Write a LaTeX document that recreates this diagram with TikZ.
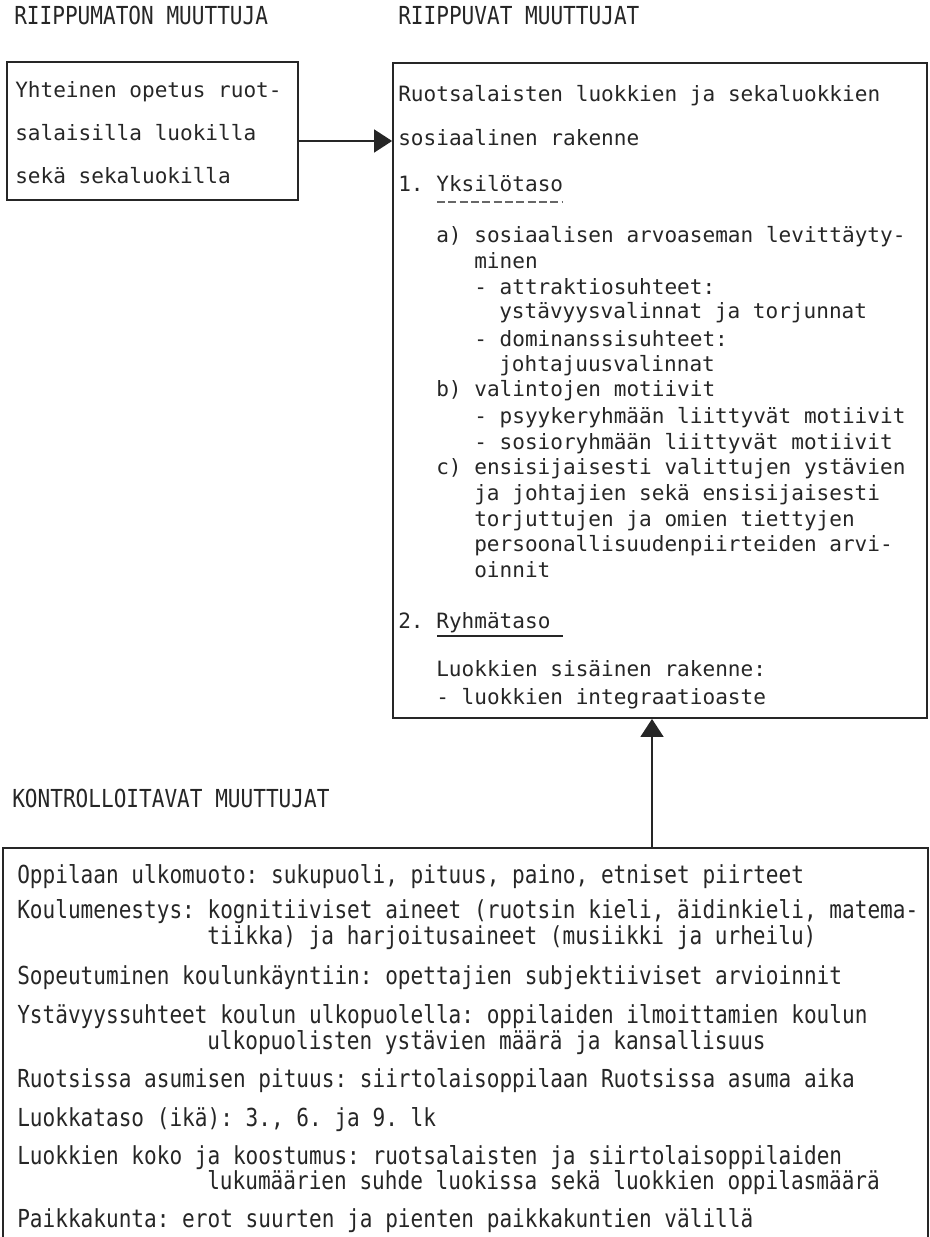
\documentclass[tikz,border=0pt]{standalone}
\usepackage{fontspec}
\usetikzlibrary{arrows.meta,fit}
\newfontfamily\twfont{DejaVu Sans Mono}
\newfontfamily\twcfont{DejaVu Sans Mono}[FakeStretch=0.85]
\definecolor{ink}{HTML}{262626}
\newcommand{\tw}{\twfont\fontsize{15.8pt}{19pt}\selectfont\frenchspacing}
\newcommand{\twc}{\twcfont\fontsize{18.6pt}{22pt}\selectfont\frenchspacing}
\tikzset{
  boxframe/.style={draw=ink, line width=1.3pt, inner sep=0pt},
  tl/.style={anchor=base west, inner sep=0pt, text=ink, font=\tw},
  tc/.style={anchor=base west, inner sep=0pt, text=ink, font=\twc},
  arr/.style={draw=ink, line width=1.9pt, -{Triangle[length=13.5pt,width=17pt]}},
}
\begin{document}
\begin{tikzpicture}[x=0.75pt,y=-0.75pt]
\useasboundingbox (0,0) rectangle (929,1237);
% headings
\node[tc] (h1) at (14,25) {RIIPPUMATON MUUTTUJA};
\node[tc] (h2) at (398,25) {RIIPPUVAT MUUTTUJAT};
\node[tc] (h3) at (12,807) {KONTROLLOITAVAT MUUTTUJAT};
% boxes
\node[boxframe, fit={(7,62) (298,200)}] (L) {};
\node[boxframe, fit={(393,63) (927,718)}] (R) {};
\node[boxframe, fit={(3,848) (928,1250)}] (B) {};
% left box text
\node[tl] (l1) at (15,98) {Yhteinen opetus ruot-};
\node[tl] (l2) at (15,141) {salaisilla luokilla};
\node[tl] (l3) at (15,184) {sekä sekaluokilla};
% right box text
\node[tl] (r1) at (398,102) {Ruotsalaisten luokkien ja sekaluokkien};
\node[tl] (r2) at (398,146) {sosiaalinen rakenne};
\node[tl] (r3) at (398,192) {1. Yksilötaso};
\draw[ink!70, line width=1.1pt, dash pattern=on 6pt off 2.5pt] (437,202) -- (563,202);
\node[tl] (r4) at (436,243) {a) sosiaalisen arvoaseman levittäyty-};
\node[tl] (r5) at (474,269) {minen};
\node[tl] (r6) at (474,295) {- attraktiosuhteet:};
\node[tl] (r7) at (499,319) {ystävyysvalinnat ja torjunnat};
\node[tl] (r8) at (474,346) {- dominanssisuhteet:};
\node[tl] (r9) at (499,371) {johtajuusvalinnat};
\node[tl] (r10) at (436,396) {b) valintojen motiivit};
\node[tl] (r11) at (474,423) {- psyykeryhmään liittyvät motiivit};
\node[tl] (r12) at (474,449) {- sosioryhmään liittyvät motiivit};
\node[tl] (r13) at (436,474) {c) ensisijaisesti valittujen ystävien};
\node[tl] (r14) at (474,500) {ja johtajien sekä ensisijaisesti};
\node[tl] (r15) at (474,526) {torjuttujen ja omien tiettyjen};
\node[tl] (r16) at (474,551) {persoonallisuudenpiirteiden arvi-};
\node[tl] (r17) at (474,577) {oinnit};
\node[tl] (r18) at (398,628) {2. Ryhmätaso};
\draw[ink, line width=1.5pt] (437,636) -- (563,636);
\node[tl] (r19) at (436,676) {Luokkien sisäinen rakenne:};
\node[tl] (r20) at (436,704) {- luokkien integraatioaste};
% bottom box text
\node[tc] (b1) at (17,883) {Oppilaan ulkomuoto: sukupuoli, pituus, paino, etniset piirteet};
\node[tc] (b2) at (17,918) {Koulumenestys: kognitiiviset aineet (ruotsin kieli, äidinkieli, matema-};
\node[tc] (b3) at (207,944) {tiikka) ja harjoitusaineet (musiikki ja urheilu)};
\node[tc] (b4) at (17,984) {Sopeutuminen koulunkäyntiin: opettajien subjektiiviset arvioinnit};
\node[tc] (b5) at (17,1023) {Ystävyyssuhteet koulun ulkopuolella: oppilaiden ilmoittamien koulun};
\node[tc] (b6) at (207,1049) {ulkopuolisten ystävien määrä ja kansallisuus};
\node[tc] (b7) at (17,1087) {Ruotsissa asumisen pituus: siirtolaisoppilaan Ruotsissa asuma aika};
\node[tc] (b8) at (17,1126) {Luokkataso (ikä): 3., 6. ja 9. lk};
\node[tc] (b9) at (17,1164) {Luokkien koko ja koostumus: ruotsalaisten ja siirtolaisoppilaiden};
\node[tc] (b10) at (207,1189) {lukumäärien suhde luokissa sekä luokkien oppilasmäärä};
\node[tc] (b11) at (17,1227) {Paikkakunta: erot suurten ja pienten paikkakuntien välillä};
% connectors
\coordinate (ah) at (0,141);
\coordinate (av) at (652,0);
\draw[arr] (L.east |- ah) -- (R.west |- ah);
\draw[arr] (B.north -| av) -- (R.south -| av);
\end{tikzpicture}
\end{document}
